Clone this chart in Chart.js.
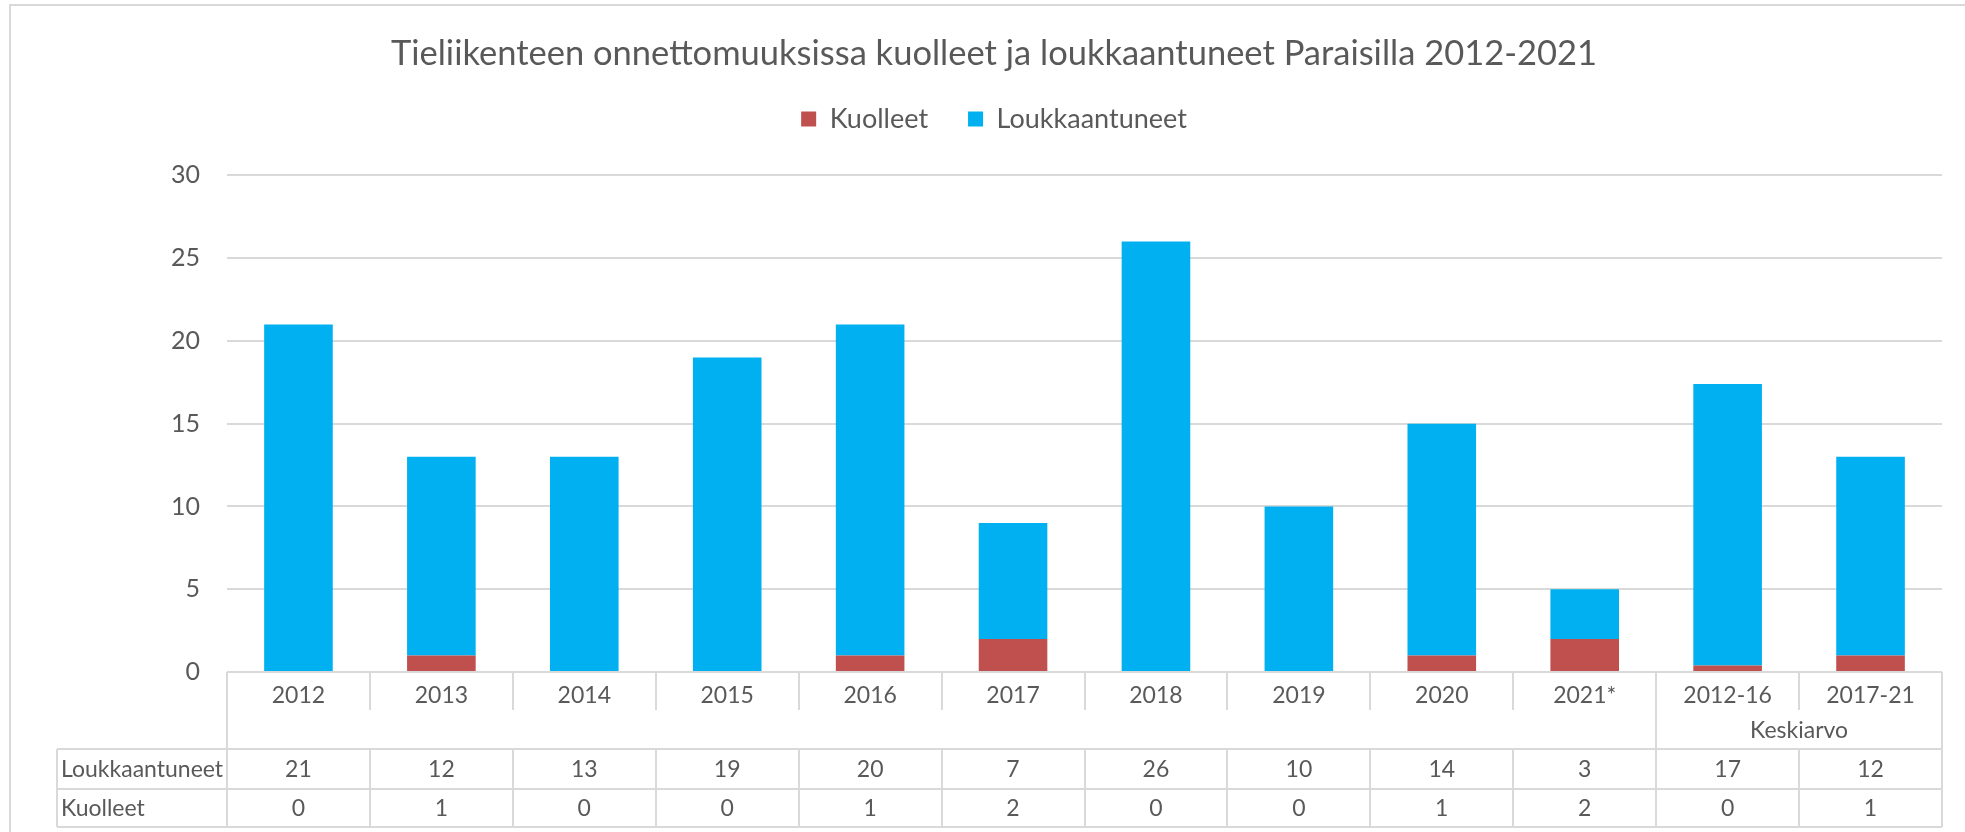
<!DOCTYPE html>
<html>
<head>
<meta charset="utf-8">
<script src="https://cdn.jsdelivr.net/npm/chart.js@4.4.1/dist/chart.umd.min.js"></script>
<style>
    html, body { margin: 0; padding: 0; background: #fff; }
    #wrap { position: relative; width: 1965px; height: 832px; }
</style>
</head>
<body>
<div id="wrap"><canvas id="accidents"></canvas></div>
<script>
"use strict";

/* data */
const categories = ['2012', '2013', '2014', '2015', '2016', '2017', '2018', '2019', '2020', '2021*', '2012-16', '2017-21'];
const injured = [21, 12, 13, 19, 20, 7, 26, 10, 14, 3, 17, 12];
const killed = [0, 1, 0, 0, 1, 2, 0, 0, 1, 2, 0.4, 1];
const yTicks = [0, 5, 10, 15, 20, 25, 30];
const groupLabel = 'Keskiarvo';
const groupStart = 10;

const textColor = '#595959';
const lineColor = '#d9d9d9';
const fontFamily = 'Lato, "Open Sans", sans-serif';

/* empty box between legend and plot area */
const legendGap = {
    id: 'legendGap',
    beforeInit: function (chart) {
        Chart.layouts.addBox(chart, {
            position: 'top',
            weight: 0,
            fullSize: true,
            options: {},
            left: 0, top: 0, right: 0, bottom: 0, width: 0, height: 0,
            isHorizontal: function () { return true; },
            getPadding: function () { return { top: 0, left: 0, right: 0, bottom: 0 }; },
            update: function (maxWidth) {
                this.width = maxWidth;
                this.height = 33;
            },
            draw: function () {}
        });
    }
};

/* data table under the x axis */
const dataTable = {
    id: 'dataTable',
    afterDraw: function (chart) {
        const ctx = chart.ctx;
        const x = chart.scales.x;
        const area = chart.chartArea;
        const n = categories.length;
        const edge = function (i) { return x.getPixelForValue(i - 0.5); };
        const top = area.bottom;
        const labelBottom = top + 38;
        const groupBottom = top + 77;
        const row1 = groupBottom + 40;
        const row2 = row1 + 38;
        const tableLeft = 57;
        const right = edge(n);

        ctx.save();
        ctx.strokeStyle = lineColor;
        ctx.lineWidth = 2;
        ctx.beginPath();
        for (let i = 0; i <= n; i++) {
            const px = Math.round(edge(i));
            const full = (i === 0 || i === groupStart || i === n);
            ctx.moveTo(px, top);
            ctx.lineTo(px, full ? row2 : labelBottom);
            if (!full) {
                ctx.moveTo(px, groupBottom);
                ctx.lineTo(px, row2);
            }
        }
        ctx.moveTo(tableLeft, groupBottom);
        ctx.lineTo(tableLeft, row2);
        [groupBottom, row1, row2].forEach(function (py) {
            ctx.moveTo(tableLeft, py);
            ctx.lineTo(right, py);
        });
        ctx.stroke();

        ctx.fillStyle = textColor;
        ctx.font = '23px ' + fontFamily;
        ctx.textBaseline = 'middle';
        ctx.textAlign = 'center';
        ctx.fillText(groupLabel, (edge(groupStart) + edge(n)) / 2, (labelBottom + groupBottom) / 2 + 1);
        for (let i = 0; i < n; i++) {
            const cx = x.getPixelForValue(i);
            ctx.fillText(String(Math.round(injured[i])), cx, (groupBottom + row1) / 2 + 1);
            ctx.fillText(String(Math.round(killed[i])), cx, (row1 + row2) / 2 + 1);
        }
        ctx.textAlign = 'left';
        ctx.fillText('Loukkaantuneet', tableLeft + 4, (groupBottom + row1) / 2 + 1);
        ctx.fillText('Kuolleet', tableLeft + 4, (row1 + row2) / 2 + 1);

        // outer chart frame
        ctx.beginPath();
        ctx.moveTo(10, chart.height);
        ctx.lineTo(10, 5);
        ctx.lineTo(chart.width, 5);
        ctx.stroke();
        ctx.restore();
    }
};

var ctx = document.getElementById('accidents').getContext('2d');
var accidentChart = new Chart(ctx, {
    type: 'bar',
    data: {
        labels: categories,
        datasets: [{
            label: 'Kuolleet',
            data: killed,
            backgroundColor: '#c0504d',
            borderWidth: 0,
        }, {
            label: 'Loukkaantuneet',
            data: injured,
            backgroundColor: '#00b0f0',
            borderWidth: 0,
        }]
    },
    options: {
        responsive: true,
        maintainAspectRatio: false,
        animation: false,
        barPercentage: 0.48,
        categoryPercentage: 1,
        layout: {
            padding: { top: 16, left: 46, right: 23, bottom: 0 }
        },
        plugins: {
            title: {
                display: true,
                text: 'Tieliikenteen onnettomuuksissa kuolleet ja loukkaantuneet Paraisilla 2012-2021',
                color: textColor,
                font: { family: fontFamily, size: 34.5, weight: 'normal' },
                padding: { top: 17, bottom: -9 }
            },
            legend: {
                display: true,
                labels: {
                    color: textColor,
                    font: { family: fontFamily, size: 27 },
                    boxWidth: 15,
                    boxHeight: 15,
                    padding: 40
                }
            },
            tooltip: { enabled: false }
        },
        scales: {
            x: {
                stacked: true,
                grid: { display: false },
                border: { display: false },
                ticks: {
                    color: textColor,
                    font: { family: fontFamily, size: 23 },
                    padding: 2,
                    maxRotation: 0,
                    autoSkip: false
                },
                afterFit: function (scale) { scale.height = 160; }
            },
            y: {
                stacked: true,
                min: 0,
                max: 30,
                afterBuildTicks: function (scale) {
                    scale.ticks = yTicks.map(function (v) { return { value: v }; });
                },
                grid: { color: lineColor, lineWidth: 2, drawTicks: false },
                border: { display: false },
                ticks: {
                    color: textColor,
                    font: { family: fontFamily, size: 25 },
                    padding: 27
                },
                afterFit: function (scale) { scale.width = 181; }
            }
        }
    },
    plugins: [legendGap, dataTable]
});
</script>
</body>
</html>
